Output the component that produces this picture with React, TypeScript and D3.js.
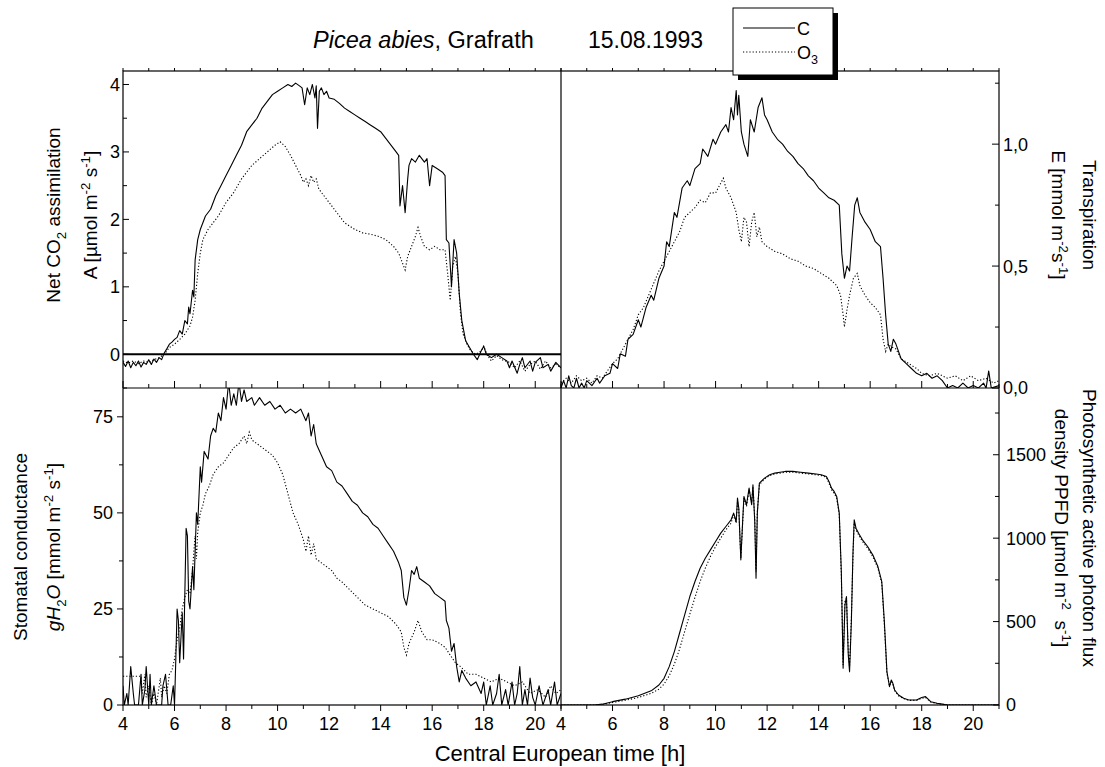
import React from 'react';
import * as d3 from 'd3';

type P = [number, number];

// ---------- data (time in h, value) ----------
const hourTicks = [4, 5, 6, 7, 8, 9, 10, 11, 12, 13, 14, 15, 16, 17, 18, 19, 20, 21];
const hourLabels = [4, 6, 8, 10, 12, 14, 16, 18, 20];
const aTicks = [0, 1, 2, 3, 4];
const aMinor = [-0.5, 0.5, 1.5, 2.5, 3.5];
const eTicks = [0, 0.5, 1.0];
const eTickLabels = ['0,0', '0,5', '1,0'];
const eMinor = [0.25, 0.75, 1.25];
const gTicks = [0, 25, 50, 75];
const gMinor = [12.5, 37.5, 62.5];
const pTicks = [0, 500, 1000, 1500];
const pMinor = [250, 750, 1250, 1750];

const aC: P[] = [[4.0,-0.12],[4.1,-0.18],[4.2,-0.1],[4.3,-0.2],[4.4,-0.12],[4.5,-0.17],[4.6,-0.1],[4.7,-0.19],[4.8,-0.12],[4.9,-0.15],[5.0,-0.08],[5.1,-0.15],[5.2,-0.07],[5.3,-0.12],[5.4,-0.05],[5.5,-0.08],[5.6,0.02],[5.7,0.08],[5.8,0.15],[5.9,0.18],[6.0,0.22],[6.1,0.25],[6.2,0.35],[6.3,0.3],[6.4,0.5],[6.5,0.45],[6.55,0.7],[6.6,0.6],[6.7,0.95],[6.75,0.85],[6.8,1.4],[6.9,1.7],[7.0,1.85],[7.1,1.95],[7.2,2.05],[7.4,2.15],[7.6,2.35],[7.8,2.5],[8.0,2.65],[8.2,2.8],[8.4,2.95],[8.6,3.1],[8.8,3.3],[9.0,3.4],[9.2,3.5],[9.4,3.65],[9.6,3.75],[9.8,3.85],[10.0,3.9],[10.2,3.95],[10.4,4.0],[10.55,3.97],[10.7,4.02],[10.85,3.98],[10.95,3.95],[11.05,3.7],[11.15,3.95],[11.25,3.85],[11.35,4.0],[11.45,3.8],[11.5,3.98],[11.55,3.35],[11.62,3.9],[11.7,3.95],[11.8,3.85],[11.9,3.9],[12.0,3.8],[12.2,3.78],[12.4,3.72],[12.6,3.65],[12.8,3.6],[13.0,3.55],[13.2,3.5],[13.4,3.45],[13.6,3.4],[13.8,3.35],[14.0,3.3],[14.2,3.2],[14.4,3.1],[14.6,3.0],[14.7,2.95],[14.75,2.2],[14.85,2.5],[14.95,2.1],[15.05,2.6],[15.1,2.8],[15.2,2.9],[15.35,2.85],[15.5,2.95],[15.7,2.85],[15.8,2.9],[15.9,2.5],[16.0,2.8],[16.2,2.75],[16.4,2.7],[16.5,2.65],[16.55,1.7],[16.65,1.65],[16.75,1.0],[16.85,1.7],[16.95,1.5],[17.05,0.9],[17.15,0.5],[17.3,0.2],[17.45,0.1],[17.6,0.0],[17.75,-0.08],[17.9,0.05],[18.0,0.12],[18.1,0.0],[18.3,-0.05],[18.5,0.0],[18.7,-0.05],[18.9,-0.1],[19.0,-0.2],[19.1,-0.1],[19.3,-0.28],[19.4,-0.15],[19.5,-0.05],[19.6,-0.2],[19.8,-0.1],[19.9,-0.25],[20.0,-0.12],[20.2,-0.05],[20.3,-0.2],[20.5,-0.15],[20.6,-0.25],[20.8,-0.12],[21.0,-0.2]];

const aO3: P[] = [[4.0,-0.1],[4.2,-0.13],[4.4,-0.1],[4.6,-0.14],[4.8,-0.1],[5.0,-0.12],[5.2,-0.08],[5.4,-0.05],[5.6,0.0],[5.8,0.1],[6.0,0.15],[6.2,0.22],[6.4,0.3],[6.6,0.42],[6.7,0.55],[6.8,0.8],[6.9,1.2],[7.0,1.5],[7.1,1.7],[7.3,1.85],[7.5,1.95],[7.7,2.05],[8.0,2.25],[8.3,2.4],[8.6,2.6],[9.0,2.8],[9.3,2.9],[9.6,3.0],[9.9,3.1],[10.1,3.15],[10.3,3.08],[10.5,2.95],[10.7,2.8],[10.9,2.65],[11.0,2.55],[11.1,2.6],[11.2,2.5],[11.3,2.65],[11.4,2.55],[11.5,2.6],[11.6,2.45],[11.8,2.35],[12.0,2.25],[12.2,2.15],[12.4,2.05],[12.6,1.95],[12.8,1.9],[13.0,1.85],[13.3,1.8],[13.6,1.78],[13.9,1.75],[14.2,1.7],[14.5,1.6],[14.7,1.5],[14.85,1.35],[14.95,1.25],[15.05,1.45],[15.2,1.6],[15.35,1.75],[15.45,1.88],[15.55,1.75],[15.7,1.6],[15.9,1.55],[16.1,1.6],[16.3,1.55],[16.5,1.55],[16.6,1.2],[16.7,0.8],[16.8,1.3],[16.9,1.45],[17.0,1.2],[17.1,0.6],[17.2,0.3],[17.35,0.15],[17.5,0.05],[17.7,0.0],[17.9,0.05],[18.0,0.12],[18.15,-0.02],[18.3,-0.1],[18.5,-0.02],[18.7,-0.08],[19.0,-0.12],[19.2,-0.2],[19.4,-0.1],[19.6,-0.25],[19.8,-0.15],[20.0,-0.1],[20.2,-0.22],[20.4,-0.1],[20.6,-0.2],[20.8,-0.15],[21.0,-0.2]];

const eC: P[] = [[4.0,0.0],[4.1,0.03],[4.2,0.0],[4.3,0.05],[4.4,0.01],[4.5,0.0],[4.6,0.04],[4.7,0.0],[4.8,0.02],[4.9,0.0],[5.0,0.03],[5.2,0.01],[5.4,0.04],[5.5,0.02],[5.7,0.05],[5.9,0.06],[6.0,0.1],[6.2,0.08],[6.3,0.14],[6.5,0.13],[6.6,0.2],[6.8,0.22],[7.0,0.28],[7.1,0.25],[7.3,0.33],[7.5,0.38],[7.6,0.36],[7.8,0.45],[8.0,0.5],[8.1,0.6],[8.2,0.58],[8.4,0.72],[8.5,0.7],[8.7,0.82],[8.9,0.85],[9.0,0.83],[9.2,0.9],[9.4,0.92],[9.5,0.98],[9.7,0.95],[9.9,1.02],[10.0,1.0],[10.2,1.05],[10.4,1.08],[10.5,1.05],[10.6,1.15],[10.7,1.1],[10.8,1.22],[10.85,1.12],[10.9,1.2],[11.0,1.05],[11.1,1.0],[11.25,0.95],[11.35,1.1],[11.5,1.05],[11.65,1.15],[11.8,1.19],[11.9,1.12],[12.0,1.1],[12.2,1.05],[12.4,1.02],[12.6,1.0],[12.8,0.97],[13.0,0.95],[13.2,0.92],[13.4,0.9],[13.6,0.87],[13.8,0.85],[14.0,0.82],[14.2,0.8],[14.4,0.78],[14.6,0.77],[14.8,0.75],[14.9,0.55],[15.0,0.45],[15.1,0.5],[15.2,0.48],[15.3,0.62],[15.4,0.75],[15.5,0.78],[15.6,0.72],[15.8,0.68],[16.0,0.65],[16.2,0.6],[16.4,0.58],[16.5,0.45],[16.6,0.3],[16.7,0.18],[16.8,0.15],[16.9,0.2],[17.0,0.18],[17.2,0.12],[17.4,0.1],[17.6,0.08],[17.8,0.06],[18.0,0.05],[18.2,0.06],[18.4,0.04],[18.6,0.05],[18.8,0.03],[19.0,0.0],[19.2,0.01],[19.4,0.0],[19.6,0.02],[19.8,0.0],[20.0,0.01],[20.2,0.0],[20.4,0.02],[20.5,0.0],[20.6,0.07],[20.7,0.0],[21.0,0.01]];

const eO3: P[] = [[4.0,0.02],[4.2,0.04],[4.4,0.02],[4.6,0.05],[4.8,0.03],[5.0,0.04],[5.2,0.02],[5.4,0.05],[5.6,0.04],[5.8,0.07],[6.0,0.1],[6.2,0.12],[6.4,0.16],[6.6,0.2],[6.8,0.24],[7.0,0.3],[7.2,0.33],[7.4,0.38],[7.6,0.43],[7.8,0.48],[8.0,0.52],[8.2,0.56],[8.4,0.6],[8.6,0.64],[8.8,0.7],[9.0,0.72],[9.2,0.74],[9.4,0.77],[9.6,0.76],[9.8,0.8],[10.0,0.8],[10.2,0.84],[10.3,0.86],[10.4,0.82],[10.6,0.78],[10.8,0.72],[10.9,0.65],[11.0,0.6],[11.1,0.7],[11.2,0.68],[11.3,0.58],[11.4,0.68],[11.5,0.72],[11.6,0.62],[11.7,0.66],[11.8,0.6],[12.0,0.58],[12.3,0.56],[12.6,0.55],[12.9,0.53],[13.2,0.52],[13.5,0.5],[13.8,0.49],[14.1,0.47],[14.4,0.45],[14.7,0.42],[14.85,0.38],[14.95,0.3],[15.0,0.25],[15.1,0.32],[15.2,0.38],[15.35,0.45],[15.5,0.47],[15.6,0.42],[15.8,0.38],[16.0,0.35],[16.2,0.33],[16.4,0.3],[16.5,0.2],[16.6,0.15],[16.7,0.18],[16.8,0.17],[17.0,0.16],[17.2,0.12],[17.5,0.1],[17.8,0.08],[18.0,0.06],[18.3,0.05],[18.6,0.06],[19.0,0.04],[19.3,0.05],[19.6,0.03],[19.9,0.05],[20.2,0.03],[20.5,0.04],[20.8,0.02],[21.0,0.03]];

const gC: P[] = [[4.0,5],[4.05,0],[4.15,3],[4.2,0],[4.3,10],[4.4,3],[4.45,0],[4.6,0],[4.7,8],[4.75,0],[4.85,4],[4.9,10],[5.0,0],[5.05,8],[5.1,0],[5.2,5],[5.3,0],[5.5,0],[5.55,5],[5.65,8],[5.75,0],[5.85,0],[5.95,5],[6.0,0],[6.05,12],[6.1,25],[6.15,22],[6.2,11],[6.3,24],[6.35,12],[6.45,46],[6.5,44],[6.55,27],[6.6,25],[6.7,36],[6.75,30],[6.85,50],[6.9,47],[7.0,62],[7.05,58],[7.15,66],[7.3,64],[7.4,70],[7.5,72],[7.6,71],[7.7,76],[7.8,74],[7.9,80],[8.0,77],[8.1,84],[8.2,78],[8.3,81],[8.4,78],[8.5,84],[8.6,79],[8.7,82],[8.8,79],[9.0,80],[9.1,78],[9.3,80],[9.5,78],[9.7,79],[9.9,77],[10.1,78],[10.3,76],[10.5,77],[10.7,76],[10.9,77],[11.1,74],[11.2,76],[11.3,70],[11.4,73],[11.5,68],[11.7,65],[11.9,62],[12.1,61],[12.3,58],[12.5,57],[12.7,55],[12.9,53],[13.1,52],[13.3,50],[13.5,49],[13.7,47],[13.9,46],[14.1,44],[14.3,42],[14.5,40],[14.7,37],[14.8,35],[14.9,28],[15.0,26],[15.1,30],[15.2,35],[15.3,34],[15.4,36],[15.5,33],[15.7,32],[15.9,31],[16.1,29],[16.3,28],[16.5,27],[16.55,22],[16.65,20],[16.75,14],[16.85,16],[16.95,10],[17.05,6],[17.15,9],[17.3,7],[17.5,5],[17.7,6],[17.9,3],[18.0,6],[18.1,0],[18.25,5],[18.35,0],[18.5,3],[18.6,8],[18.7,0],[18.85,4],[18.95,0],[19.1,6],[19.2,0],[19.3,3],[19.4,10],[19.5,0],[19.6,4],[19.7,0],[19.8,7],[19.9,2],[20.0,0],[20.15,5],[20.3,0],[20.5,4],[20.6,0],[20.75,6],[20.85,0],[21.0,3]];

const gO3: P[] = [[4.0,7.5],[4.3,7.5],[4.6,7.5],[4.7,7.5],[4.75,3],[4.85,8],[4.9,2],[5.0,5],[5.1,0],[5.2,3],[5.3,0],[5.45,7],[5.5,2],[5.6,5],[5.7,3],[5.8,8],[5.9,9],[6.0,12],[6.1,17],[6.2,20],[6.3,25],[6.4,28],[6.5,30],[6.6,29],[6.7,35],[6.75,40],[6.8,44],[6.85,38],[6.9,45],[7.0,50],[7.1,52],[7.2,55],[7.35,57],[7.5,60],[7.7,62],[7.9,63],[8.1,65],[8.3,67],[8.5,68],[8.7,70],[8.8,68],[8.9,71],[9.0,69],[9.2,68],[9.4,67],[9.6,66],[9.8,65],[10.0,63],[10.2,60],[10.4,55],[10.6,50],[10.8,47],[11.0,43],[11.1,40],[11.2,44],[11.3,39],[11.4,42],[11.5,38],[11.7,37],[11.9,36],[12.1,35],[12.3,33],[12.5,32],[12.8,30],[13.1,28],[13.4,26],[13.7,25],[14.0,24],[14.3,23],[14.6,21],[14.8,19],[14.9,15],[15.0,13],[15.1,16],[15.3,19],[15.45,22],[15.6,19],[15.8,17],[16.0,17],[16.3,16],[16.5,15],[16.7,13],[16.9,11],[17.1,10],[17.4,8],[17.7,8],[18.0,7],[18.3,6],[18.6,7],[18.9,6],[19.2,5],[19.5,6],[19.8,3],[20.1,4],[20.4,2],[20.6,5],[20.8,3],[21.0,4]];

const pC: P[] = [[4.0,0],[5.0,0],[5.3,0],[5.6,5],[6.0,20],[6.5,35],[7.0,55],[7.5,85],[7.8,120],[8.0,160],[8.2,230],[8.4,320],[8.6,430],[8.8,540],[9.0,650],[9.2,740],[9.4,820],[9.6,880],[9.8,930],[10.0,980],[10.2,1030],[10.4,1070],[10.6,1110],[10.7,1150],[10.8,1100],[10.85,1240],[10.9,1180],[10.98,870],[11.05,1100],[11.1,1250],[11.2,1200],[11.3,1300],[11.4,1200],[11.45,1320],[11.52,1100],[11.57,760],[11.62,1150],[11.7,1330],[11.9,1360],[12.1,1380],[12.3,1390],[12.5,1395],[12.7,1400],[13.0,1400],[13.3,1395],[13.6,1390],[13.9,1385],[14.1,1380],[14.3,1370],[14.4,1340],[14.5,1300],[14.6,1280],[14.7,1250],[14.8,1150],[14.88,800],[14.95,220],[15.02,600],[15.08,650],[15.15,300],[15.2,200],[15.27,500],[15.33,900],[15.38,1110],[15.45,1060],[15.55,1030],[15.7,990],[15.9,950],[16.1,900],[16.3,830],[16.45,740],[16.55,500],[16.65,200],[16.75,110],[16.82,150],[16.88,130],[16.95,90],[17.1,60],[17.3,40],[17.5,30],[17.8,30],[18.0,45],[18.15,50],[18.35,20],[18.6,10],[18.8,5],[19.0,0],[21.0,0]];

const pO3: P[] = [[4.0,0],[5.3,0],[5.6,3],[6.0,15],[6.5,28],[7.0,45],[7.5,70],[7.8,95],[8.0,125],[8.2,175],[8.4,245],[8.6,335],[8.8,440],[9.0,545],[9.2,645],[9.4,740],[9.6,820],[9.8,890],[10.0,950],[10.2,1000],[10.4,1050],[10.6,1090],[10.7,1140],[10.8,1090],[10.85,1220],[10.9,1170],[10.98,880],[11.05,1090],[11.1,1240],[11.2,1190],[11.3,1290],[11.4,1210],[11.45,1310],[11.52,1120],[11.57,800],[11.62,1160],[11.7,1320],[11.9,1355],[12.1,1375],[12.3,1385],[12.5,1390],[12.7,1395],[13.0,1395],[13.3,1390],[13.6,1385],[13.9,1380],[14.1,1375],[14.3,1365],[14.4,1330],[14.5,1290],[14.6,1270],[14.7,1240],[14.8,1140],[14.88,780],[14.95,240],[15.02,620],[15.08,640],[15.15,320],[15.2,230],[15.27,520],[15.33,880],[15.38,1090],[15.45,1050],[15.55,1020],[15.7,980],[15.9,940],[16.1,890],[16.3,820],[16.45,730],[16.55,480],[16.65,190],[16.75,115],[16.82,140],[16.88,125],[16.95,85],[17.1,55],[17.3,38],[17.5,28],[17.8,28],[18.0,40],[18.15,45],[18.35,18],[18.6,8],[18.8,4],[19.0,0],[21.0,0]];

// ---------- layout ----------
const L = 123, M = 561, R = 999, T = 71, MID = 388, B = 705;
const FONT = "Arial, 'Liberation Sans', Helvetica, sans-serif";

type Seg = [string, string?];

function Rich({ segs, fs }: { segs: Seg[]; fs: number }) {
  let cur = 0;
  const out: any[] = [];
  segs.forEach(([txt, kind], i) => {
    let target = 0;
    let size = fs;
    let italic = false;
    if (kind === 'sup') { target = -0.38 * fs; size = fs * 0.7; }
    if (kind === 'sub') { target = 0.3 * fs; size = fs * 0.7; }
    if (kind === 'i') italic = true;
    const dy = target - cur;
    cur = target;
    out.push(
      <tspan key={i} dy={dy} fontSize={size} fontStyle={italic ? 'italic' : 'normal'}>{txt}</tspan>
    );
  });
  return <>{out}</>;
}

export default function App() {
  const xL = d3.scaleLinear().domain([4, 21]).range([L, M]);
  const xR = d3.scaleLinear().domain([4, 21]).range([M, R]);
  const yA = d3.scaleLinear().domain([-0.5, 4.2]).range([MID, T]);
  const yE = d3.scaleLinear().domain([0, 1.3]).range([MID, T]);
  const yG = d3.scaleLinear().domain([0, 82.5]).range([B, MID]);
  const yP = d3.scaleLinear().domain([0, 1900]).range([B, MID]);

  const mk = (x: any, y: any) => d3.line<P>().x(d => x(d[0])).y(d => y(d[1]));
  const solid = { fill: 'none', stroke: '#000', strokeWidth: 1.1, strokeLinejoin: 'round' as const };
  const dotted = { fill: 'none', stroke: '#000', strokeWidth: 1.1, strokeDasharray: '1.2,2' };

  const tickFs = 18;
  const lblFs = 19;

  const ticks: any[] = [];
  const tl = (x1: number, y1: number, x2: number, y2: number, k: string) =>
    ticks.push(<line key={k} x1={x1} y1={y1} x2={x2} y2={y2} stroke="#000" strokeWidth={1} />);

  hourTicks.forEach(h => {
    const major = h % 2 === 0;
    [xL, xR].forEach((xs, j) => {
      const x = xs(h);
      tl(x, T, x, T - 3, `tt${j}${h}`);
      tl(x, MID, x, MID - (major ? 7 : 4), `tm${j}${h}`);
      tl(x, B, x, B + (major ? 6 : 4), `tb${j}${h}`);
    });
  });
  aTicks.forEach(v => tl(L, yA(v), L + 6, yA(v), `a${v}`));
  aMinor.forEach(v => tl(L, yA(v), L + 4, yA(v), `am${v}`));
  gTicks.forEach(v => tl(L, yG(v), L - 6, yG(v), `g${v}`));
  gMinor.forEach(v => tl(L, yG(v), L - 4, yG(v), `gm${v}`));
  eTicks.forEach(v => tl(R, yE(v), R - 7, yE(v), `e${v}`));
  eMinor.forEach(v => tl(R, yE(v), R - 4, yE(v), `em${v}`));
  pTicks.forEach(v => tl(R, yP(v), R - 6, yP(v), `p${v}`));
  pMinor.forEach(v => tl(R, yP(v), R - 4, yP(v), `pm${v}`));

  return (
    <svg width={1105} height={767} style={{ position: 'absolute', left: 0, top: 0, display: 'block', background: '#fff' }}
      fontFamily={FONT}>
      <defs>
        <clipPath id="cTL"><rect x={L} y={T} width={M - L} height={MID - T} /></clipPath>
        <clipPath id="cTR"><rect x={M} y={T} width={R - M} height={MID - T} /></clipPath>
        <clipPath id="cBL"><rect x={L} y={MID} width={M - L} height={B - MID} /></clipPath>
        <clipPath id="cBR"><rect x={M} y={MID} width={R - M} height={B - MID} /></clipPath>
      </defs>
      <rect x={0} y={0} width={1105} height={767} fill="#fff" />

      <g clipPath="url(#cTL)">
        <path d={mk(xL, yA)(aO3) || ''} {...dotted} />
        <path d={mk(xL, yA)(aC) || ''} {...solid} />
        <line x1={L} x2={M} y1={yA(0)} y2={yA(0)} stroke="#000" strokeWidth={2} />
      </g>
      <g clipPath="url(#cTR)">
        <path d={mk(xR, yE)(eO3) || ''} {...dotted} />
        <path d={mk(xR, yE)(eC) || ''} {...solid} />
      </g>
      <g clipPath="url(#cBL)">
        <path d={mk(xL, yG)(gO3) || ''} {...dotted} />
        <path d={mk(xL, yG)(gC) || ''} {...solid} />
      </g>
      <g clipPath="url(#cBR)">
        <path d={mk(xR, yP)(pO3) || ''} {...dotted} />
        <path d={mk(xR, yP)(pC) || ''} {...solid} />
      </g>

      <rect x={L} y={T} width={R - L} height={B - T} fill="none" stroke="#000" strokeWidth={1.2} />
      <line x1={M} x2={M} y1={T} y2={B} stroke="#000" strokeWidth={1.2} />
      <line x1={L} x2={R} y1={MID} y2={MID} stroke="#000" strokeWidth={1.2} />
      {ticks}

      {hourLabels.map(h => (
        <g key={`xl${h}`}>
          <text x={xL(h)} y={730} fontSize={tickFs} textAnchor="middle">{h}</text>
          <text x={xR(h)} y={730} fontSize={tickFs} textAnchor="middle">{h}</text>
        </g>
      ))}
      {aTicks.map(v => (
        <text key={`at${v}`} x={120} y={yA(v)} dy="0.36em" fontSize={tickFs} textAnchor="end">{v}</text>
      ))}
      {gTicks.map(v => (
        <text key={`gt${v}`} x={113} y={yG(v)} dy="0.36em" fontSize={tickFs} textAnchor="end">{v}</text>
      ))}
      {eTicks.map((v, i) => (
        <text key={`et${v}`} x={1003} y={yE(v)} dy="0.36em" fontSize={tickFs} textAnchor="start">{eTickLabels[i]}</text>
      ))}
      {pTicks.map(v => (
        <text key={`pt${v}`} x={1006} y={yP(v)} dy="0.36em" fontSize={tickFs} textAnchor="start">{v}</text>
      ))}

      <g transform="translate(60,215) rotate(-90)">
        <text x={0} y={0} fontSize={lblFs} textAnchor="middle">
          <Rich fs={lblFs} segs={[['Net CO'], ['2', 'sub'], [' assimilation']]} />
        </text>
      </g>
      <g transform="translate(97,215) rotate(-90)">
        <text x={0} y={0} fontSize={lblFs} textAnchor="middle">
          <Rich fs={lblFs} segs={[['A [µmol m'], ['-2', 'sup'], [' s'], ['-1', 'sup'], [']']]} />
        </text>
      </g>
      <g transform="translate(27,547) rotate(-90)">
        <text x={0} y={0} fontSize={lblFs} textAnchor="middle">Stomatal conductance</text>
      </g>
      <g transform="translate(60,547) rotate(-90)">
        <text x={0} y={0} fontSize={lblFs} textAnchor="middle">
          <Rich fs={lblFs} segs={[['gH', 'i'], ['2', 'sub'], ['O', 'i'], [' [mmol m'], ['-2', 'sup'], [' s'], ['-1', 'sup'], [']']]} />
        </text>
      </g>
      <g transform="translate(1083,215) rotate(90)">
        <text x={0} y={0} fontSize={lblFs} textAnchor="middle">Transpiration</text>
      </g>
      <g transform="translate(1052,215) rotate(90)">
        <text x={0} y={0} fontSize={lblFs} textAnchor="middle">
          <Rich fs={lblFs} segs={[['E [mmol m'], ['-2', 'sup'], ['s'], ['-1', 'sup'], [']']]} />
        </text>
      </g>
      <g transform="translate(1083,528) rotate(90)">
        <text x={0} y={0} fontSize={lblFs} textAnchor="middle">Photosynthetic active photon flux</text>
      </g>
      <g transform="translate(1055,528) rotate(90)">
        <text x={0} y={0} fontSize={lblFs} textAnchor="middle" style={{ whiteSpace: 'pre' }}>
          <Rich fs={lblFs} segs={[['density PPFD [µmol m'], ['-2', 'sup'], ['\u00a0 s'], ['-1', 'sup'], [']']]} />
        </text>
      </g>
      <text x={560} y={761} fontSize={22} textAnchor="middle">Central European time [h]</text>

      <text x={313} y={48} fontSize={23.5}>
        <tspan fontStyle="italic">Picea abies</tspan>
        <tspan>, Grafrath</tspan>
      </text>
      <text x={588} y={48} fontSize={23}>15.08.1993</text>

      <rect x={738} y={13} width={100} height={67} fill="#000" />
      <rect x={733} y={8} width={100} height={67} fill="#fff" stroke="#000" strokeWidth={1} />
      <line x1={743} x2={795} y1={28} y2={28} stroke="#000" strokeWidth={1.1} />
      <text x={797} y={35} fontSize={18}>C</text>
      <line x1={743} x2={795} y1={52} y2={52} stroke="#000" strokeWidth={1.1} strokeDasharray="1.2,2" />
      <text x={797} y={59} fontSize={18}>
        <Rich fs={18} segs={[['O'], ['3', 'sub']]} />
      </text>
    </svg>
  );
}
